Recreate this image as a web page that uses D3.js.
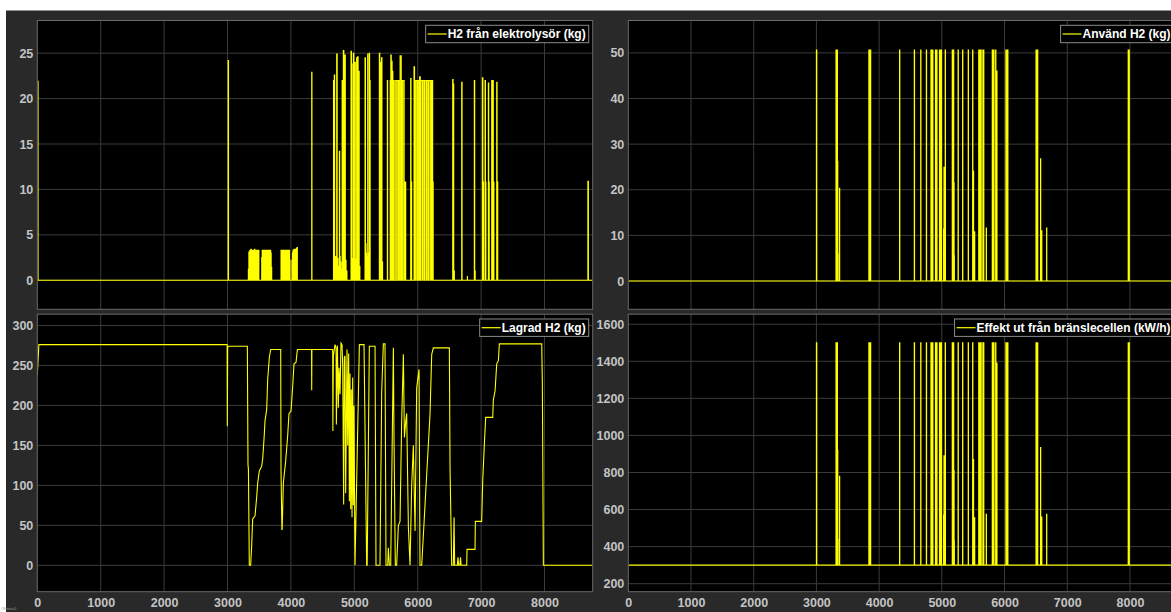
<!DOCTYPE html>
<html>
<head>
<meta charset="utf-8">
<script src="https://cdnjs.cloudflare.com/ajax/libs/d3/7.8.5/d3.min.js"></script>
<style>
  html, body { margin: 0; padding: 0; background: #ffffff; overflow: hidden; }
  svg { display: block; }
</style>
</head>
<body>
<svg id="scope" width="1171" height="612"></svg>
<script>
// ---- time axis (hours of the year) ----
const yearHours = 8760;
const hourTicks = [0, 1000, 2000, 3000, 4000, 5000, 6000, 7000, 8000];

// ---- H2 från elektrolysör (kg): production pulses ----
const electrolyserStart = [
  0, 3010,
  3329, 3337, 3345, 3353, 3361, 3369, 3377, 3385, 3393, 3401, 3409, 3417, 3425, 3433, 3441, 3449, 3457, 3465, 3473, 3481, 3489,
  3539, 3547, 3555, 3563, 3571, 3579, 3587, 3595, 3603, 3611, 3619, 3627, 3635, 3643, 3651, 3659, 3667, 3675, 3683, 3691,
  3844, 3852, 3860, 3868, 3876, 3884, 3892, 3900, 3908, 3916, 3924, 3932, 3940, 3948, 3956, 3964, 3972, 3980,
  4016, 4024, 4032, 4040, 4048, 4056, 4064, 4072, 4080, 4088, 4096,
  4328,
  4672, 4684, 4694, 4702, 4710, 4722, 4736, 4748, 4764, 4774, 4784, 4796, 4808, 4827, 4848, 4866, 4880,
  4948, 4958, 4966, 4974, 4985, 4996, 5003, 5010, 5020, 5028, 5037, 5045, 5053, 5064, 5072, 5082,
  5169, 5180, 5188, 5196, 5204, 5211, 5220, 5228, 5237, 5244,
  5395, 5406, 5416, 5430, 5440,
  5521, 5566, 5576, 5590, 5602, 5625,
  5653, 5676, 5700, 5722, 5744, 5766, 5790, 5804,
  5889, 5900,
  5942, 5954, 5976, 6000, 6008, 6030, 6044, 6054, 6080, 6104, 6114, 6140, 6164, 6174, 6200, 6222, 6240,
  6552, 6562, 6574, 6694, 6783, 6893, 6903,
  7020, 7034, 7062, 7072, 7114, 7124, 7167, 7176, 7186, 7196, 7246, 7258,
  8684
];
const electrolyserEnd = [
  12, 3016,
  3335, 3343, 3351, 3359, 3367, 3375, 3383, 3391, 3399, 3407, 3415, 3423, 3431, 3439, 3447, 3455, 3463, 3471, 3479, 3487, 3495,
  3545, 3553, 3561, 3569, 3577, 3585, 3593, 3601, 3609, 3617, 3625, 3633, 3641, 3649, 3657, 3665, 3673, 3681, 3689, 3697,
  3850, 3858, 3866, 3874, 3882, 3890, 3898, 3906, 3914, 3922, 3930, 3938, 3946, 3954, 3962, 3970, 3978, 3986,
  4022, 4030, 4038, 4046, 4054, 4062, 4070, 4078, 4086, 4094, 4102,
  4332,
  4678, 4690, 4698, 4706, 4714, 4730, 4742, 4752, 4770, 4778, 4788, 4800, 4812, 4835, 4858, 4870, 4884,
  4955, 4963, 4971, 4980, 4992, 5000, 5007, 5016, 5024, 5032, 5042, 5050, 5060, 5068, 5077, 5088,
  5176, 5184, 5192, 5200, 5208, 5216, 5224, 5232, 5241, 5250,
  5402, 5412, 5422, 5436, 5446,
  5526, 5571, 5583, 5596, 5608, 5630,
  5672, 5696, 5718, 5740, 5762, 5786, 5800, 5811,
  5895, 5905,
  5950, 5972, 5996, 6004, 6026, 6040, 6050, 6076, 6100, 6110, 6136, 6160, 6170, 6196, 6218, 6236, 6244,
  6558, 6568, 6578, 6700, 6785, 6899, 6907,
  7028, 7038, 7068, 7076, 7120, 7128, 7172, 7182, 7192, 7202, 7252, 7262,
  8692
];
const electrolyserKg = [
  21.9, 24.2,
  1.2, 3.1, 2.4, 3.3, 1.8, 3.4, 2.9, 3.3, 2.1, 3.2, 3.3, 2.6, 3.4, 1.6, 3.0, 3.3, 2.2, 3.3, 3.1, 2.8, 3.3,
  2.5, 3.3, 3.3, 2.9, 3.3, 1.9, 3.3, 3.2, 3.3, 2.7, 3.3, 3.3, 2.3, 3.3, 3.1, 3.3, 2.6, 3.3, 3.0, 1.4,
  3.3, 3.3, 2.4, 3.3, 3.3, 3.2, 3.3, 1.9, 3.3, 3.3, 3.3, 2.8, 3.3, 3.3, 3.1, 3.3, 3.3, 2.2,
  2.2, 3.0, 3.3, 1.8, 3.4, 2.6, 3.3, 3.4, 2.0, 3.5, 3.6,
  22.9,
  22.0, 22.6, 2.6, 1.8, 2.6, 24.9, 2.4, 1.5, 14.2, 2.6, 2.0, 1.2, 22.0, 25.3, 24.8, 2.2, 1.0,
  25.2, 23.8, 2.0, 2.4, 25.0, 2.2, 1.9, 24.0, 2.0, 2.3, 24.5, 22.0, 24.6, 2.0, 23.0, 1.5,
  24.5, 4.0, 3.0, 2.6, 1.8, 24.9, 3.0, 2.2, 25.0, 22.0,
  25.0, 24.0, 11.0, 24.5, 2.0,
  22.0, 22.0, 24.8, 24.1, 23.0, 22.0,
  22.0, 22.0, 22.0, 24.7, 22.0, 22.0, 10.8, 10.8,
  22.2, 10.8,
  23.5, 22.0, 22.0, 10.8, 22.0, 22.4, 10.8, 22.0, 22.0, 10.8, 22.0, 22.0, 10.8, 22.0, 22.0, 22.0, 10.8,
  22.1, 21.6, 1.0, 21.8, 0.4, 22.0, 1.0,
  22.3, 10.8, 22.0, 10.8, 21.7, 10.8, 22.0, 10.8, 22.0, 10.8, 21.8, 10.8,
  10.9
];

// ---- Använd H2 (kg) and Effekt ut från bränslecellen (kW/h): fuel-cell pulses ----
const fuelCellStart = [
  3000, 3312, 3326, 3338, 3342, 3368, 3836, 3858, 4326, 4561, 4663, 4753, 4826, 4850, 4898, 4916,
  4962, 4986, 5028, 5034, 5054, 5166, 5180, 5192, 5196, 5259, 5331, 5421, 5491, 5504, 5522,
  5588, 5604, 5620, 5654, 5666, 5708, 5804, 5826, 5858, 5876, 6021, 6046, 6502, 6522, 6574,
  6592, 6671, 7972, 7984
];
const fuelCellEnd = [
  3006, 3320, 3336, 3341, 3346, 3371, 3844, 3866, 4330, 4565, 4667, 4757, 4834, 4858, 4904, 4924,
  4972, 4996, 5031, 5037, 5058, 5176, 5190, 5196, 5200, 5263, 5335, 5425, 5495, 5507, 5525,
  5596, 5612, 5628, 5662, 5670, 5712, 5810, 5832, 5862, 5880, 6028, 6054, 6510, 6530, 6577,
  6595, 6674, 7980, 7990
];
const usedKg = [
  50.6, 50.6, 50.6, 26.2, 5.9, 20.3, 50.6, 50.6, 50.6, 50.6, 50.6, 50.6, 50.6, 50.6, 50.6, 50.6,
  50.6, 50.6, 11.4, 24.9, 50.6, 50.6, 50.6, 21.5, 5.5, 50.6, 50.6, 50.6, 50.6, 24.1, 10.8,
  50.6, 50.6, 50.6, 50.6, 50.6, 11.6, 50.6, 50.6, 50.6, 46.0, 50.6, 50.6, 50.6, 50.6, 26.8,
  11.0, 11.6, 50.6, 50.6
];
const fuelCellKw = [
  1500, 1500, 1500, 920, 440, 780, 1500, 1500, 1500, 1500, 1500, 1500, 1500, 1500, 1500, 1500,
  1500, 1500, 570, 890, 1500, 1500, 1500, 810, 430, 1500, 1500, 1500, 1500, 870, 555,
  1500, 1500, 1500, 1500, 1500, 575, 1500, 1500, 1500, 1390, 1500, 1500, 1500, 1500, 935,
  560, 575, 1500, 1500
];
const fuelCellIdleKw = 300;

// ---- Lagrad H2 (kg): storage level ----
const storedHours = [
  0, 25, 2994, 2997, 3003, 3010, 3313, 3323, 3330, 3344, 3365, 3381, 3397, 3434, 3460, 3476, 3502, 3539, 3555,
  3576, 3592, 3618, 3634, 3660, 3681, 3839, 3844, 3858, 3862, 3881, 3918, 3949, 3970, 4002, 4028, 4049, 4081,
  4102, 4326, 4328, 4331, 4659, 4662, 4670, 4696, 4712, 4717, 4733, 4748, 4759, 4775, 4790, 4806, 4817, 4832,
  4843, 4853, 4864, 4885, 4896, 4911, 4922, 4932, 4943, 4953, 4964, 4974, 4985, 4995, 5011, 5080, 5153, 5195,
  5203, 5237, 5327, 5342, 5405, 5432, 5458, 5484, 5500, 5527, 5537, 5553, 5574, 5616, 5626, 5647, 5668, 5695,
  5721, 5747, 5774, 5790, 5811, 5826, 5853, 5879, 5905, 5931, 5958, 5984, 6021, 6036, 6063, 6194, 6221, 6247,
  6499, 6510, 6536, 6562, 6573, 6583, 6625, 6635, 6645, 6665, 6675, 6685, 6773, 6778, 6904, 6909, 7009, 7025,
  7051, 7072, 7183, 7193, 7220, 7246, 7272, 7288, 7956, 7966, 7982, 8760
];
const storedKg = [
  238, 276, 276, 174, 272, 274, 274, 126, 120, 0, 0, 24, 58, 62, 85, 103, 118, 124, 133,
  158, 181, 195, 233, 260, 270, 270, 118, 45, 45, 103, 131, 162, 190, 193, 224, 252, 254,
  270, 270, 219, 270, 270, 168, 262, 276, 272, 176, 275, 197, 247, 214, 278, 276, 250, 76,
  260, 262, 90, 270, 150, 265, 80, 240, 70, 220, 60, 235, 75, 200, 0, 276, 276, 0,
  0, 274, 274, 0, 0, 217, 277, 277, 0, 0, 22, 0, 0, 272, 160, 0, 0, 50,
  55, 180, 264, 160, 180, 190, 47, 0, 100, 150, 43, 222, 245, 0, 0, 189, 264, 272,
  272, 121, 0, 0, 60, 0, 0, 10, 0, 0, 10, 0, 0, 20, 20, 55, 55, 105,
  151, 185, 185, 207, 218, 252, 256, 277, 277, 226, 0, 0
];

// ---- value-axis ticks per panel ----
const electrolyserTicks = [0, 5, 10, 15, 20, 25];
const usedTicks = [0, 10, 20, 30, 40, 50];
const storedTicks = [0, 50, 100, 150, 200, 250, 300];
const powerTicks = [200, 400, 600, 800, 1000, 1200, 1400, 1600];

// pulse trains become step polylines that return to the base level between pulses
function pulseLine(starts, ends, levels, base) {
  const pts = [[0, base]];
  starts.forEach((s, i) => {
    pts.push([s, base], [s, levels[i]], [ends[i], levels[i]], [ends[i], base]);
  });
  pts.push([yearHours, base]);
  if (starts[0] === 0) pts.splice(0, 2);
  return pts;
}

const panels = [
  {
    id: "el", legend: "H2 från elektrolysör (kg)",
    left: 37.3, right: 592.7, top: 20.5, bottom: 309.3,
    domain: [-3.2, 28.6], ticks: electrolyserTicks, xLabels: false,
    points: pulseLine(electrolyserStart, electrolyserEnd, electrolyserKg, 0)
  },
  {
    id: "used", legend: "Använd H2 (kg)",
    left: 628.3, right: 1177.6, top: 20.5, bottom: 309.3,
    domain: [-6.2, 57.1], ticks: usedTicks, xLabels: false,
    points: pulseLine(fuelCellStart, fuelCellEnd, usedKg, 0)
  },
  {
    id: "stored", legend: "Lagrad H2 (kg)",
    left: 37.3, right: 592.7, top: 314.2, bottom: 591.7,
    domain: [-33.0, 314.1], ticks: storedTicks, xLabels: true,
    points: storedHours.map((h, i) => [h, storedKg[i]])
  },
  {
    id: "power", legend: "Effekt ut från bränslecellen (kW/h)",
    left: 628.3, right: 1177.6, top: 314.2, bottom: 591.7,
    domain: [156.9, 1653.9], ticks: powerTicks, xLabels: true,
    points: pulseLine(fuelCellStart, fuelCellEnd, fuelCellKw, fuelCellIdleKw)
  }
];

const svg = d3.select("#scope");
const font = "'Liberation Sans', Arial, Helvetica, sans-serif";
const tickColor = "#c4c4c4";

// figure background
svg.append("rect").attr("x", 6).attr("y", 10.5).attr("width", 1171 - 6).attr("height", 612 - 10.5)
  .attr("fill", "#292929");

const defs = svg.append("defs");

panels.forEach(p => {
  const x = d3.scaleLinear().domain([0, yearHours]).range([p.left, p.right]);
  const y = d3.scaleLinear().domain(p.domain).range([p.bottom, p.top]);
  const g = svg.append("g");

  defs.append("clipPath").attr("id", "clip-" + p.id)
    .append("rect").attr("x", p.left).attr("y", p.top)
    .attr("width", p.right - p.left).attr("height", p.bottom - p.top);

  g.append("rect").attr("x", p.left).attr("y", p.top)
    .attr("width", p.right - p.left).attr("height", p.bottom - p.top).attr("fill", "#000000");

  // grid
  const grid = g.append("g").attr("stroke", "#3b3b3b").attr("stroke-width", 1);
  grid.selectAll("line.v").data(hourTicks.slice(1)).join("line")
    .attr("x1", d => x(d)).attr("x2", d => x(d)).attr("y1", p.top).attr("y2", p.bottom);
  grid.selectAll("line.h").data(p.ticks).join("line")
    .attr("x1", p.left).attr("x2", p.right).attr("y1", d => y(d)).attr("y2", d => y(d));

  // value axis labels
  const yAxis = d3.axisLeft(y).tickValues(p.ticks).tickSize(0).tickPadding(4).tickFormat(d3.format("d"));
  const ya = g.append("g").attr("transform", `translate(${p.left},0)`).call(yAxis);
  ya.select(".domain").remove();
  ya.selectAll("text").attr("fill", tickColor).attr("font-family", font)
    .attr("font-weight", "bold").attr("font-size", 12.5);

  if (p.xLabels) {
    const xAxis = d3.axisBottom(x).tickValues(hourTicks).tickSize(0).tickPadding(6).tickFormat(d3.format("d"));
    const xa = g.append("g").attr("transform", `translate(0,${p.bottom})`).call(xAxis);
    xa.select(".domain").remove();
    xa.selectAll("text").attr("fill", tickColor).attr("font-family", font)
      .attr("font-weight", "bold").attr("font-size", 12.5);
  }

  // signal trace
  const line = d3.line().x(d => x(d[0])).y(d => y(d[1]));
  g.append("path").datum(p.points).attr("clip-path", `url(#clip-${p.id})`)
    .attr("d", line).attr("fill", "none").attr("stroke", "#ffff00")
    .attr("stroke-width", 1.1).attr("stroke-linejoin", "miter");

  // axes frame
  g.append("rect").attr("x", p.left).attr("y", p.top)
    .attr("width", p.right - p.left).attr("height", p.bottom - p.top)
    .attr("fill", "none").attr("stroke", "#6a6a6a").attr("stroke-width", 1);

  // legend box in the upper right corner
  const lg = g.append("g");
  const txt = lg.append("text").text(p.legend).attr("font-family", font)
    .attr("font-weight", "bold").attr("font-size", 12).attr("fill", "#ffffff");
  const tw = txt.node().getComputedTextLength();
  const boxW = tw + 25, boxH = 17.4;
  const bx = p.right - 4 - boxW, by = p.top + 4.8;
  lg.insert("rect", "text").attr("x", bx).attr("y", by).attr("width", boxW).attr("height", boxH)
    .attr("fill", "#000000").attr("stroke", "#8a8a8a").attr("stroke-width", 1);
  lg.append("line").attr("x1", bx + 2).attr("x2", bx + 21).attr("y1", by + boxH / 2).attr("y2", by + boxH / 2)
    .attr("stroke", "#ffff00").attr("stroke-width", 1.2);
  txt.attr("x", bx + 22).attr("y", by + boxH / 2 + 4.3);
});

// simulation offset note in the corner
svg.append("text").attr("x", 1).attr("y", 610).text("Offset=0")
  .attr("font-family", font).attr("font-size", 4).attr("fill", "#9a9a9a");
</script>
</body>
</html>
